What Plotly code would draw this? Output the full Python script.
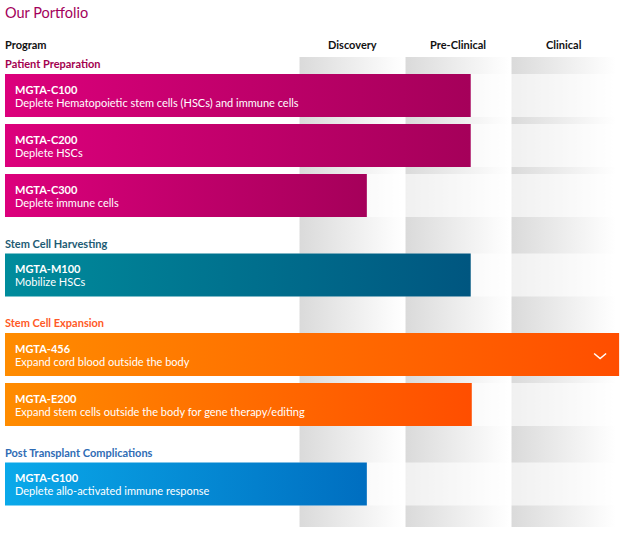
import plotly.graph_objects as go

# ---------------- data ----------------
title_text = "Our Portfolio"
stages = ["Discovery", "Pre-Clinical", "Clinical"]
groups = ["Patient Preparation", "Stem Cell Harvesting",
          "Stem Cell Expansion", "Post Transplant Complications"]
program_group = [0, 0, 0, 1, 2, 2, 3]
program_codes = ["MGTA-C100", "MGTA-C200", "MGTA-C300", "MGTA-M100",
                 "MGTA-456", "MGTA-E200", "MGTA-G100"]
program_desc = ["Deplete Hematopoietic stem cells (HSCs) and immune cells",
                "Deplete HSCs",
                "Deplete immune cells",
                "Mobilize HSCs",
                "Expand cord blood outside the body",
                "Expand stem cells outside the body for gene therapy/editing",
                "Deplete allo-activated immune response"]
# progress in stage units (Discovery 0-1, Pre-Clinical 1-2, Clinical 2-3)
progress = [1.62, 1.62, 0.64, 1.62, 3.02, 1.63, 0.64]
expandable = [False, False, False, False, True, False, False]

# ---------------- styles ----------------
group_text_colors = ["#a3004f", "#1d5b74", "#ff5a26", "#2f6cb5"]
group_grad = [("#dc007c", "#a5005a"), ("#008c9c", "#005680"),
              ("#ff8c00", "#ff4e00"), ("#0aa9ea", "#006ec0")]
FONT = "Lato"
W, H = 628, 535
COLW = 106.0
X0 = 299.0
def px2x(p):
    return (p - X0) / COLW

BAR_START = px2x(5)
TEXT_X = px2x(13)
LEFT_X = px2x(3)
BAR_H = 43
COL_TOP, COL_BOT = 57, 527

# compute row positions
bar_tops = []
header_y = {}
cur = 74.0
prev_g = None
for i, g in enumerate(program_group):
    if prev_g is None:
        pass
    elif g == prev_g:
        cur += 50
    else:
        cur += 79.5
    if g not in header_y:
        header_y[g] = cur - 10.5
    bar_tops.append(cur)
    prev_g = g

fig = go.Figure()

def rect(x0, x1, y0, y1, **kw):
    fig.add_trace(go.Scatter(
        x=[x0, x1, x1, x0, x0], y=[y0, y0, y1, y1, y0],
        mode="lines", line=dict(width=0), fill="toself",
        hoverinfo="skip", showlegend=False, **kw))

# stage columns (gray gradient)
for s in range(len(stages)):
    rect(s + 0.005, s + 0.99, COL_TOP, COL_BOT,
         fillgradient=dict(type="horizontal",
                           colorscale=[[0, "#dadada"], [0.85, "#fafafa"], [1, "#ffffff"]]))

# light row overlays behind bars
for i in range(len(program_codes)):
    rect(0, 3.0, bar_tops[i], bar_tops[i] + BAR_H,
         fillcolor="rgba(255,255,255,0.6)")

# bars with gradient
for i in range(len(program_codes)):
    c0, c1 = group_grad[program_group[i]]
    rect(BAR_START, progress[i], bar_tops[i], bar_tops[i] + BAR_H,
         fillgradient=dict(type="horizontal", colorscale=[[0, c0], [1, c1]]))
    if expandable[i]:
        cx = progress[i] - 19 / COLW
        cy = bar_tops[i] + 23
        fig.add_trace(go.Scatter(
            x=[cx - 6 / COLW, cx, cx + 6 / COLW], y=[cy - 2.5, cy + 2.5, cy - 2.5],
            mode="lines", line=dict(color="white", width=1.5),
            hoverinfo="skip", showlegend=False))

ann = []
ann.append(dict(x=LEFT_X, y=12, text=title_text, xanchor="left",
                font=dict(family=FONT, size=14.5, color="#a3005b")))
ann.append(dict(x=LEFT_X, y=44, text="<b>Program</b>", xanchor="left",
                font=dict(family=FONT, size=11, color="#111111")))
for s, name in enumerate(stages):
    ann.append(dict(x=s + 0.5, y=44, text="<b>" + name + "</b>", xanchor="center",
                    font=dict(family=FONT, size=11, color="#111111")))
for g, yy in header_y.items():
    ann.append(dict(x=LEFT_X, y=yy, text="<b>" + groups[g] + "</b>",
                    xanchor="left",
                    font=dict(family=FONT, size=11, color=group_text_colors[g])))
for i in range(len(program_codes)):
    ann.append(dict(x=TEXT_X, y=bar_tops[i] + 15, text="<b>" + program_codes[i] + "</b>",
                    xanchor="left", font=dict(family=FONT, size=11, color="white")))
    ann.append(dict(x=TEXT_X, y=bar_tops[i] + 28, text=program_desc[i],
                    xanchor="left", font=dict(family=FONT, size=11, color="white")))
for a in ann:
    a.update(xref="x", yref="y", showarrow=False, yanchor="middle")

fig.update_layout(
    width=W, height=H, margin=dict(l=0, r=0, t=0, b=0),
    paper_bgcolor="white", plot_bgcolor="white",
    xaxis=dict(range=[px2x(0), px2x(W)], visible=False, fixedrange=True),
    yaxis=dict(range=[H, 0], visible=False, fixedrange=True),
    annotations=ann, showlegend=False,
)
fig.write_html("out.html", config={"displayModeBar": False},
               post_script="document.body.style.margin='0px';document.body.style.overflow='hidden';")
